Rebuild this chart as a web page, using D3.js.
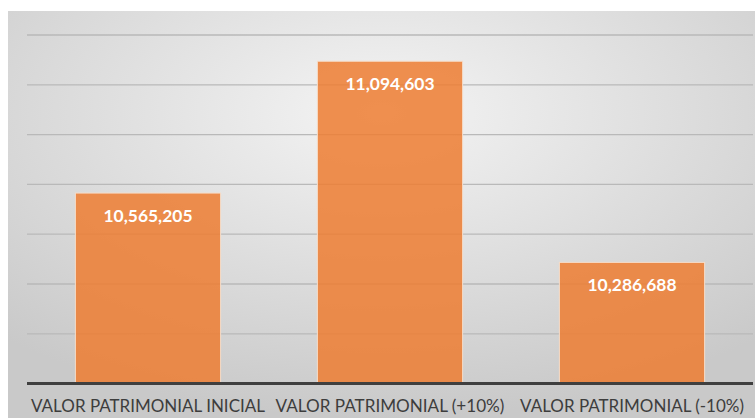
<!DOCTYPE html>
<html>
<head>
<meta charset="utf-8">
<script src="https://cdn.jsdelivr.net/npm/d3@7.9.0/dist/d3.min.js"></script>
<style>
  html, body { margin: 0; padding: 0; background: #fff; }
  svg { display: block; }
</style>
</head>
<body>
<svg id="chart" width="755" height="418"></svg>
<script>
const categories = ['VALOR PATRIMONIAL INICIAL', 'VALOR PATRIMONIAL (+10%)', 'VALOR PATRIMONIAL (-10%)'];
const values = [10565205, 11094603, 10286688];
const yTicks = [9800000, 10000000, 10200000, 10400000, 10600000, 10800000, 11000000, 11200000];

const svg = d3.select('#chart');
const width = 755, height = 418;
const margin = { top: 35, right: 2, bottom: 34.4, left: 27 };

// background panel with a soft radial shade
const defs = svg.append('defs');
const grad = defs.append('radialGradient')
  .attr('id', 'bg')
  .attr('cx', '50%').attr('cy', '25%').attr('r', '75%');
grad.append('stop').attr('offset', '0%').attr('stop-color', '#f4f4f4');
grad.append('stop').attr('offset', '100%').attr('stop-color', '#c9c9c9');

svg.append('rect')
  .attr('x', 8).attr('y', 11)
  .attr('width', width - 8).attr('height', height - 11)
  .attr('fill', 'url(#bg)');

const x = d3.scaleBand()
  .domain(categories)
  .range([margin.left, width - margin.right])
  .paddingInner(0.4)
  .paddingOuter(0.2);

const y = d3.scaleLinear()
  .domain([9800000, 11200000])
  .range([height - margin.bottom, margin.top]);

// gridlines
svg.append('g')
  .selectAll('line')
  .data(yTicks.slice(1))
  .join('line')
  .attr('x1', margin.left)
  .attr('x2', width - margin.right)
  .attr('y1', d => y(d))
  .attr('y2', d => y(d))
  .attr('stroke', '#b9b9b9')
  .attr('stroke-width', 1.3);

// bars
svg.append('g')
  .selectAll('rect')
  .data(values)
  .join('rect')
  .attr('x', (d, i) => x(categories[i]))
  .attr('y', d => y(d))
  .attr('width', x.bandwidth())
  .attr('height', d => y(9800000) - y(d))
  .attr('fill', '#ED7D31')
  .attr('fill-opacity', 0.85)
  .attr('stroke', '#f6dcc8')
  .attr('stroke-width', 1);

// value labels
svg.append('g')
  .selectAll('text')
  .data(values)
  .join('text')
  .attr('x', (d, i) => x(categories[i]) + x.bandwidth() / 2)
  .attr('y', d => y(d) + 29)
  .attr('text-anchor', 'middle')
  .attr('fill', '#fff')
  .attr('font-family', 'Lato')
  .attr('font-weight', 'bold')
  .attr('font-size', '17.5px')
  .attr('textLength', 89)
  .attr('lengthAdjust', 'spacingAndGlyphs')
  .text(d => d3.format(',')(d));

// x axis line
svg.append('line')
  .attr('x1', margin.left)
  .attr('x2', width - margin.right)
  .attr('y1', y(9800000))
  .attr('y2', y(9800000))
  .attr('stroke', '#3f3f3f')
  .attr('stroke-width', 3);

// category labels, squeezed horizontally like a narrow font
const labelWidths = [234, 229, 224];
svg.append('g')
  .selectAll('text')
  .data(categories)
  .join('text')
  .attr('text-anchor', 'middle')
  .attr('fill', '#3d3d3d')
  .attr('font-family', 'Lato')
  .attr('font-size', '18px')
  .text(d => d)
  .each(function (d, i) {
    const w = this.getComputedTextLength();
    const k = labelWidths[i] / w;
    const cx = x(d) + x.bandwidth() / 2;
    d3.select(this).attr('transform', `translate(${cx},${y(9800000) + 28.5}) scale(${k},1)`);
  });
</script>
</body>
</html>
